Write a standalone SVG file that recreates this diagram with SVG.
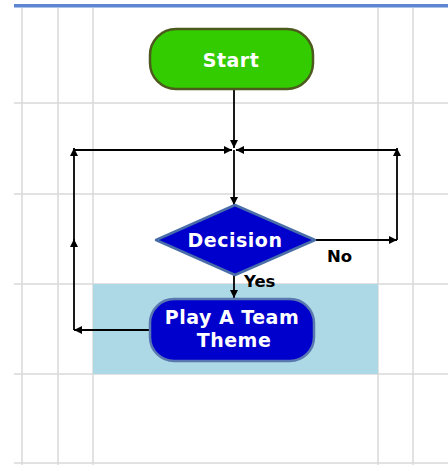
<svg xmlns="http://www.w3.org/2000/svg" width="448" height="465" viewBox="0 0 448 465">
<style>
.grid{stroke:#d9d9d9;stroke-width:1.5;fill:none}
.conn{stroke:#000;stroke-width:1.8;fill:none;marker-end:url(#ah)}
.lbl{font-family:"DejaVu Sans",Verdana,sans-serif;font-weight:bold;fill:#fff;font-size:19px;text-anchor:middle;letter-spacing:0.5px}
.edge{font-family:"DejaVu Sans",Verdana,sans-serif;font-weight:bold;fill:#000;font-size:16.5px}
</style>
<defs>
<marker id="ah" markerWidth="10" markerHeight="10" refX="8" refY="5" orient="auto" markerUnits="userSpaceOnUse">
<path d="M0,1 L8,5 L0,9 Z" fill="#000"/>
</marker>
</defs>
<rect width="448" height="465" fill="#fff"/>
<g id="grid">
<line class="grid" x1="22" y1="7" x2="22" y2="465"/>
<line class="grid" x1="58" y1="7" x2="58" y2="465"/>
<line class="grid" x1="93" y1="7" x2="93" y2="465"/>
<line class="grid" x1="378" y1="7" x2="378" y2="465"/>
<line class="grid" x1="413" y1="7" x2="413" y2="465"/>
<line class="grid" x1="14" y1="103" x2="448" y2="103"/>
<line class="grid" x1="14" y1="194" x2="448" y2="194"/>
<line class="grid" x1="14" y1="284" x2="448" y2="284"/>
<line class="grid" x1="14" y1="374" x2="448" y2="374"/>
<line class="grid" x1="14" y1="463" x2="448" y2="463"/>
<rect x="93" y="284" width="285" height="90" fill="#add8e6"/>
</g>
<rect x="14" y="4" width="434" height="3" fill="#5d86d2"/>
<rect x="14" y="7" width="434" height="1" fill="#a9c0e8"/>
<g id="connectors">
<line class="conn" x1="234" y1="89" x2="234" y2="148"/>
<line class="conn" x1="234" y1="150" x2="234" y2="205"/>
<line class="conn" x1="315" y1="240" x2="397" y2="240"/>
<line class="conn" x1="397" y1="240" x2="397" y2="148"/>
<line class="conn" x1="397" y1="150" x2="236" y2="150"/>
<line class="conn" x1="234" y1="275" x2="234" y2="298"/>
<line class="conn" x1="149" y1="330" x2="74" y2="330"/>
<line class="conn" x1="74" y1="330" x2="74" y2="239"/>
<line class="conn" x1="74" y1="241" x2="74" y2="148"/>
<line class="conn" x1="74" y1="150" x2="232" y2="150"/>
<text class="edge" x="327" y="262">No</text>
<text class="edge" x="244" y="287">Yes</text>
</g>
<g id="start">
<rect x="150" y="29" width="163" height="60" rx="26" fill="#33cc00" stroke="#4d5a1e" stroke-width="2.5"/>
<text class="lbl" x="231" y="67">Start</text>
</g>
<g id="decision">
<polygon points="235,205 315,240 235,275 156,240" fill="#0000cc" stroke="#4a6fa8" stroke-width="2.5" stroke-linejoin="round"/>
<text class="lbl" x="235" y="247">Decision</text>
</g>
<g id="play">
<rect x="150" y="299" width="164" height="62" rx="24" fill="#0000cc" stroke="#5a78b0" stroke-width="2.5"/>
<text class="lbl" x="232" y="324">Play A Team</text>
<text class="lbl" x="234" y="347">Theme</text>
</g>
</svg>
